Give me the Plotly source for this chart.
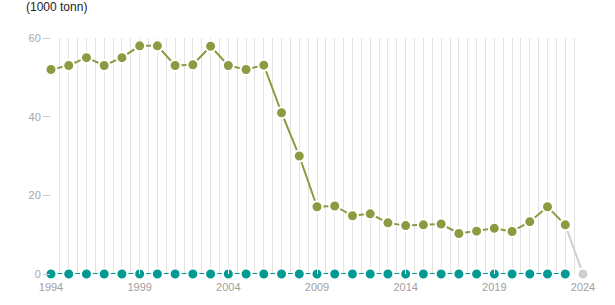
import plotly.graph_objects as go

years = list(range(1994, 2024))
olive_values = [52, 53, 55, 53, 55, 58, 58, 53, 53.2, 57.9, 53, 52, 53.1, 41, 30.0,
                17.1, 17.3, 14.8, 15.3, 13.0, 12.3, 12.5, 12.7, 10.3, 10.9, 11.6,
                10.8, 13.3, 17.1, 12.5]
teal_values = [0] * 30
last_year = 2024
last_value = 0
tick_years = [1994, 1999, 2004, 2009, 2014, 2019, 2024]
y_ticks = [0, 20, 40, 60]
unit_label = "(1000 tonn)"

OLIVE = "#8c9a41"
TEAL = "#009a93"
GRAY = "#cfcfcf"
FONT = "Liberation Sans, Arial, sans-serif"
MSIZE = 11

fig = go.Figure()

# projected / missing last segment in gray
fig.add_trace(go.Scatter(
    x=[years[-1], last_year], y=[olive_values[-1], last_value],
    mode="lines+markers", cliponaxis=False,
    line=dict(color=GRAY, width=2),
    marker=dict(color=GRAY, size=MSIZE, line=dict(color="white", width=2)),
    hoverinfo="skip"))

fig.add_trace(go.Scatter(
    x=years, y=teal_values, mode="lines+markers", cliponaxis=False,
    line=dict(color=TEAL, width=2),
    marker=dict(color=TEAL, size=MSIZE, line=dict(color="white", width=2))))

fig.add_trace(go.Scatter(
    x=years, y=olive_values, mode="lines+markers", cliponaxis=False,
    line=dict(color=OLIVE, width=2),
    marker=dict(color=OLIVE, size=MSIZE, line=dict(color="white", width=2))))

fig.update_layout(
    width=615, height=305,
    margin=dict(l=51, r=32, t=38, b=31),
    paper_bgcolor="white", plot_bgcolor="white",
    showlegend=False,
    font=dict(family=FONT, size=11, color="#999999"),
    title=dict(text=unit_label, x=26/615, xanchor="left", xref="container",
               y=1 - 7/305, yanchor="middle", yref="container",
               font=dict(family=FONT, size=12, color="#222222")),
)

fig.update_xaxes(
    range=[1994, 2024], tickmode="array", tickvals=tick_years,
    ticktext=[str(t) for t in tick_years],
    showgrid=True, gridcolor="#e3e3e3", gridwidth=1,
    minor=dict(dtick=0.5, tick0=1994, showgrid=True, gridcolor="#e3e3e3", gridwidth=1),
    ticks="inside", ticklen=5, tickcolor="white", tickwidth=1,
    ticklabelstandoff=5,
    showline=False, zeroline=False,
    tickfont=dict(family=FONT, size=11, color="#a0a0a0"),
)

fig.update_yaxes(
    range=[0, 60], tickmode="array", tickvals=y_ticks,
    showgrid=False, zeroline=False, showline=False,
    ticks="outside", ticklen=7, tickcolor="#cccccc", tickwidth=1,
    tickfont=dict(family=FONT, size=11, color="#a8a8a8"),
)

fig.write_html("out.html")
